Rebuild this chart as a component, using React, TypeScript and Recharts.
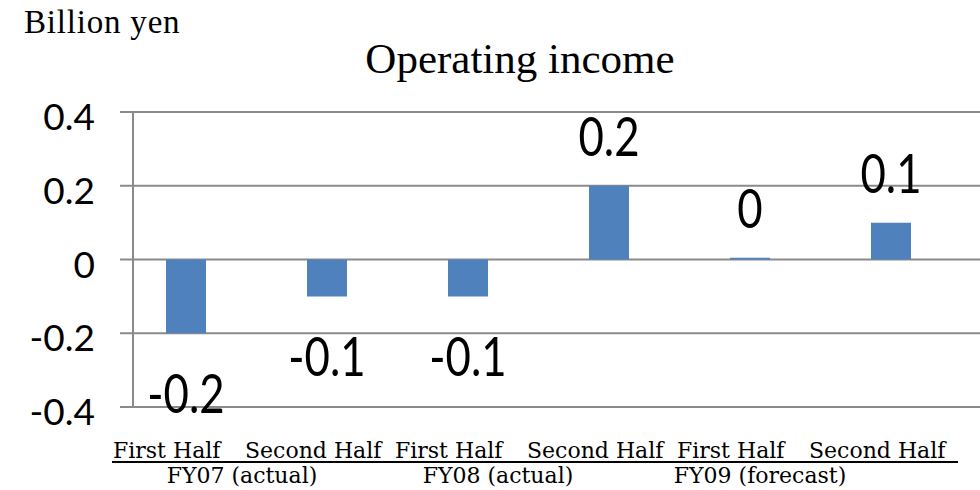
import React from "react";
import { Bar, BarChart, CartesianGrid, LabelList, XAxis, YAxis } from "recharts";

// Operating income by half year, billion yen.
const periods = ["FY07 H1", "FY07 H2", "FY08 H1", "FY08 H2", "FY09 H1", "FY09 H2"];
const halfNames = ["First Half", "Second Half", "First Half", "Second Half", "First Half", "Second Half"];
const groupNames = ["FY07 (actual)", "FY08 (actual)", "FY09 (forecast)"];
const operatingIncome = [-0.2, -0.1, -0.1, 0.2, 0.005, 0.1];
const yTicks = [-0.4, -0.2, 0, 0.2, 0.4];

// Excel places the group captions a little off-centre; nudge them to match.
const groupLabelShift = [-14, -40, -60];

const GRID = "#8a8a8a";
const BAR = "#4f81bd";
const SERIF = "'Liberation Serif', 'Times New Roman', serif";
const WIDE_SERIF = "'DejaVu Serif', serif";
const SANS = "Lato, 'Open Sans', sans-serif";

const rows = periods.map((p, i) => ({ period: p, value: operatingIncome[i] }));

const fmt = (v: number) => String(Number(v.toFixed(1)));

// Data labels: tall, narrow Calibri-like digits (Lato squeezed horizontally).
const ValueLabel = (props: any) => {
  const { x, y, width, height, value } = props;
  const v = Number(value);
  const top = Math.min(y, y + height);
  const bottom = Math.max(y, y + height);
  const ty = v < 0 ? bottom + 80 : top - 30;

  return (
    <text
      fill="#000"
      fontFamily={SANS}
      fontSize={54}
      textAnchor="middle"
      transform={`translate(${x + width / 2},${ty}) scale(0.81,1)`}
      x={0}
      y={0}
    >
      {fmt(v)}
    </text>
  );
};

const YTick = (props: any) => {
  const { x, y, payload } = props;

  return (
    <text fill="#000" fontFamily={SANS} fontSize={37} textAnchor="end" x={x} y={y + 18}>
      {payload.value}
    </text>
  );
};

const XTick = (props: any) => {
  const { x, y, payload } = props;
  const i = payload.index as number;
  const half = payload.offset ?? 70.5;
  const bandStart = x - half;
  const first = i % 2 === 0;

  return (
    <g>
      <text
        fill="#000"
        fontFamily={WIDE_SERIF}
        fontSize={22}
        textAnchor="start"
        x={bandStart + (first ? -2 : -11)}
        y={y + 51}
      >
        {halfNames[i]}
      </text>
      {first && (
        <>
          <line stroke="#000" strokeWidth={2} x1={bandStart - 3} x2={bandStart + 4 * half - 3} y1={y + 55} y2={y + 55} />
          <text
            fill="#000"
            fontFamily={WIDE_SERIF}
            fontSize={22}
            textAnchor="middle"
            x={bandStart + 2 * half + groupLabelShift[i / 2]}
            y={y + 76}
          >
            {groupNames[i / 2]}
          </text>
        </>
      )}
    </g>
  );
};

export default function App() {
  return (
    <div style={{ position: "absolute", left: 0, top: 0, width: 980, height: 490, background: "#fff" }}>
      <BarChart data={rows} height={490} margin={{ top: 112, right: 0, bottom: 0, left: 0 }} width={980}>
        <text fill="#000" fontFamily={SERIF} fontSize={33} letterSpacing={0.8} x={24} y={33}>
          Billion yen
        </text>
        <text fill="#000" fontFamily={SERIF} fontSize={43} textAnchor="middle" x={520} y={73}>
          Operating income
        </text>
        <CartesianGrid horizontal stroke={GRID} strokeWidth={2} vertical={false} />
        <XAxis
          axisLine={false}
          dataKey="period"
          height={83}
          interval={0}
          padding={{ left: -18, right: 19 }}
          tick={<XTick />}
          tickLine={false}
          tickMargin={0}
          tickSize={0}
        />
        <YAxis
          axisLine={{ stroke: GRID, strokeWidth: 2 }}
          domain={[-0.4, 0.4]}
          interval={0}
          tick={<YTick />}
          tickLine={{ stroke: GRID, strokeWidth: 2 }}
          tickMargin={25}
          tickSize={13}
          ticks={yTicks}
          type="number"
          width={133}
        />
        <Bar barSize={40} dataKey="value" fill={BAR} isAnimationActive={false}>
          <LabelList content={<ValueLabel />} dataKey="value" />
        </Bar>
      </BarChart>
    </div>
  );
}
